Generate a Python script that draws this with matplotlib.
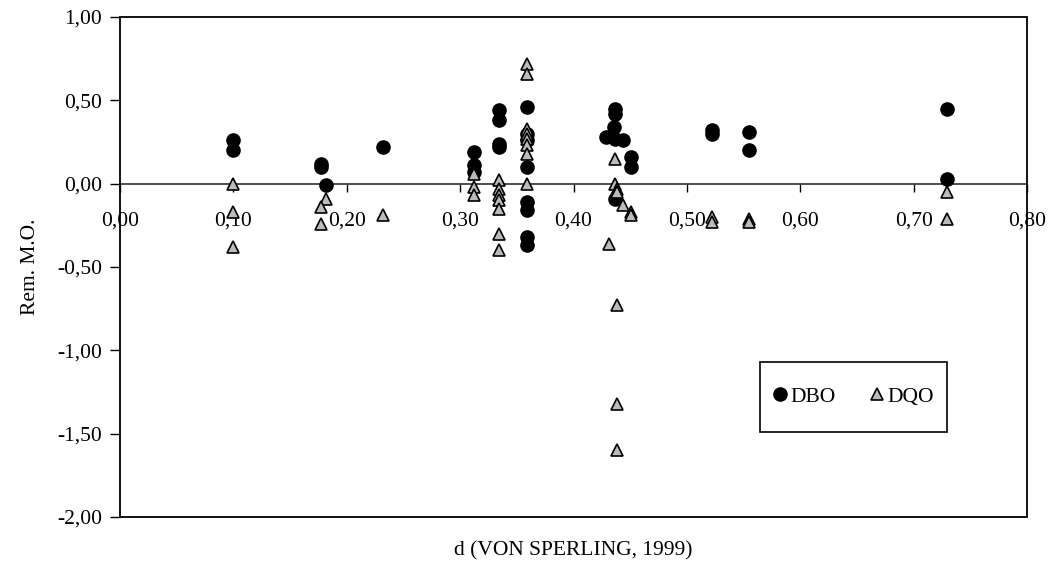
import matplotlib
matplotlib.use("Agg")
import matplotlib.pyplot as plt
from matplotlib.patches import Rectangle
from matplotlib.ticker import FuncFormatter

plt.rcParams['font.family'] = ['Liberation Serif', 'DejaVu Serif']

# DBO (circles)
dbo_x = [0.100, 0.100,
         0.177, 0.177, 0.182,
         0.232,
         0.312, 0.312, 0.312,
         0.334, 0.334, 0.334, 0.334,
         0.359, 0.359, 0.359, 0.359, 0.359, 0.359, 0.359, 0.359,
         0.429, 0.437, 0.437, 0.436, 0.444, 0.437, 0.451, 0.451, 0.437,
         0.522, 0.522,
         0.555, 0.555,
         0.729, 0.729]
dbo_y = [0.26, 0.20,
         0.12, 0.10, -0.01,
         0.22,
         0.19, 0.11, 0.07,
         0.44, 0.38, 0.24, 0.22,
         0.46, 0.30, 0.26, 0.10, -0.11, -0.16, -0.32, -0.37,
         0.28, 0.45, 0.42, 0.34, 0.26, 0.27, 0.16, 0.10, -0.09,
         0.32, 0.30,
         0.31, 0.20,
         0.45, 0.03]

# DQO (triangles)
dqo_x = [0.100, 0.100, 0.100,
         0.182, 0.177, 0.177,
         0.232,
         0.312, 0.312, 0.312,
         0.334, 0.334, 0.334, 0.334, 0.334, 0.334, 0.334,
         0.359, 0.359, 0.359, 0.359, 0.359, 0.359, 0.359, 0.359,
         0.437, 0.437, 0.438, 0.438, 0.444, 0.451, 0.451, 0.431, 0.438, 0.438, 0.438,
         0.522, 0.522,
         0.555, 0.555,
         0.729, 0.729]
dqo_y = [0.00, -0.17, -0.38,
         -0.09, -0.14, -0.24,
         -0.19,
         0.06, -0.02, -0.07,
         0.02, -0.03, -0.07, -0.10, -0.15, -0.30, -0.40,
         0.72, 0.66, 0.33, 0.30, 0.27, 0.23, 0.18, 0.00,
         0.15, 0.00, -0.03, -0.05, -0.13, -0.17, -0.19, -0.36, -0.73, -1.32, -1.60,
         -0.20, -0.23,
         -0.21, -0.23,
         -0.05, -0.21]

x_ticks = [0.0, 0.1, 0.2, 0.3, 0.4, 0.5, 0.6, 0.7, 0.8]
y_ticks = [1.0, 0.5, 0.0, -0.5, -1.0, -1.5, -2.0]

W, H = 1049, 568
fig = plt.figure(figsize=(W / 100, H / 100), dpi=100)
ax = fig.add_axes([120 / W, 1 - 517 / H, 907 / W, 500 / H])

ax.plot(dbo_x, dbo_y, 'o', color='black', markersize=9.5, label='DBO', zorder=3)
ax.plot(dqo_x, dqo_y, '^', markerfacecolor='#b8bcbc', markeredgecolor='black',
        markeredgewidth=1.2, markersize=9, label='DQO', zorder=4)

ax.set_xlim(0, 0.8)
ax.set_ylim(-2.0, 1.0)
ax.set_xticks(x_ticks)
ax.set_yticks(y_ticks)

fmt = FuncFormatter(lambda v, p: ('%.2f' % v).replace('.', ','))
ax.xaxis.set_major_formatter(fmt)
ax.yaxis.set_major_formatter(fmt)

# x axis sits on the zero line, box stays around the plot area
ax.spines['bottom'].set_position(('data', 0))
ax.spines['bottom'].set_color('#404040')
ax.spines['bottom'].set_linewidth(1.3)
for s in ('top', 'right', 'left'):
    ax.spines[s].set_visible(False)
ax.add_patch(Rectangle((0, 0), 1, 1, transform=ax.transAxes, fill=False,
                       edgecolor='black', linewidth=1.3, clip_on=False, zorder=5))

ax.tick_params(axis='x', direction='out', length=6, width=1, pad=14, labelsize=15.5)
ax.tick_params(axis='y', direction='out', length=7, width=1, pad=6, labelsize=15.5)

ax.set_ylabel('Rem. M.O.', fontsize=15.5, labelpad=12)
fig.text((120 + 1027) / 2 / W, 1 - 551 / H, 'd (VON SPERLING, 1999)',
         ha='center', va='center', fontsize=15.5)

# legend box drawn by hand, entries centred inside it
lx, ly, lw, lh = 0.7056, 0.17, 0.2062, 0.14
ax.add_patch(Rectangle((lx, ly), lw, lh, transform=ax.transAxes, facecolor='white',
                       edgecolor='black', linewidth=1.2, zorder=6))
leg = ax.legend(loc='center', bbox_to_anchor=(lx + lw / 2, ly + lh / 2),
                ncol=2, fontsize=15.5, frameon=False, borderpad=0,
                handletextpad=0.2, columnspacing=1.6, handlelength=0.6,
                borderaxespad=0)
leg.set_zorder(7)

fig.savefig('out.png', dpi=100)
